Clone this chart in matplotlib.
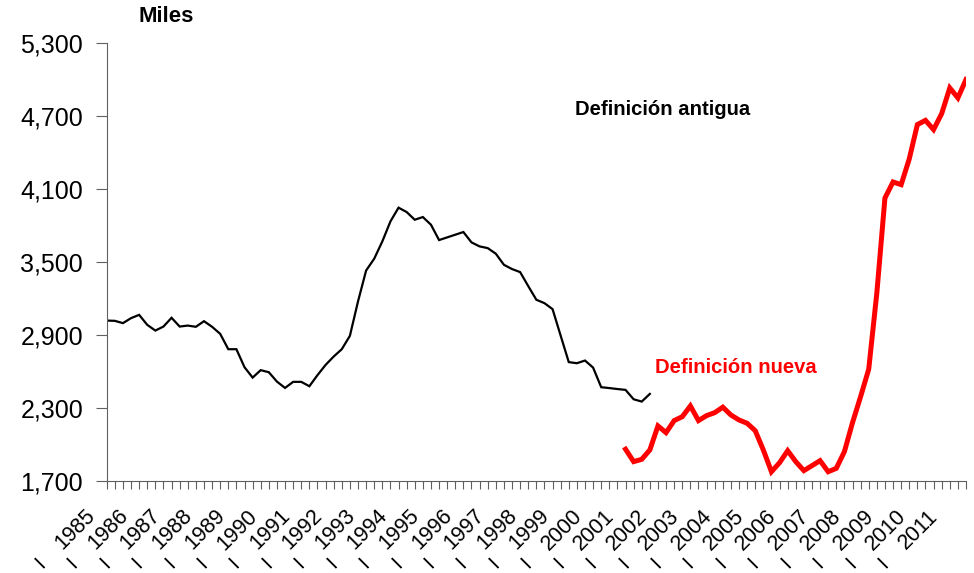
import numpy as np
import matplotlib
matplotlib.use("Agg")
import matplotlib.pyplot as plt
from matplotlib.ticker import FuncFormatter
from matplotlib.transforms import ScaledTranslation

plt.rcParams["font.family"] = ["Liberation Sans", "DejaVu Sans"]

# trimestres desde 1985-I hasta 2011-III
years = list(range(1985, 2012))
n_quarters = 107

# miles de personas, definicion antigua (1985-I .. 2001-IV)
antigua = [3017, 3015, 2996, 3037, 3064, 2982, 2935, 2968, 3040, 2968,
           2976, 2966, 3012, 2966, 2908, 2782, 2782, 2634, 2549, 2610,
           2593, 2516, 2464, 2514, 2514, 2478, 2569, 2653, 2722, 2782,
           2892, 3174, 3428, 3525, 3667, 3831, 3944, 3908, 3845, 3867,
           3804, 3678, 3700, 3722, 3744, 3659, 3626, 3612, 3566, 3475,
           3440, 3415, 3300, 3188, 3160, 3111, 2893, 2676, 2667, 2689,
           2631, 2470, 2463, 2455, 2448, 2371, 2352, 2415]

# definicion nueva (2001-I .. 2011-III)
nueva = [1961, 1859, 1878, 1955, 2152, 2097, 2196, 2228, 2316, 2196,
         2237, 2261, 2306, 2242, 2201, 2174, 2113, 1955, 1776, 1850,
         1949, 1859, 1785, 1826, 1867, 1776, 1804, 1941, 2179, 2393,
         2618, 3243, 4023, 4155, 4133, 4344, 4626, 4661, 4585, 4716,
         4927, 4845, 4996]
nueva_start = 64

fig = plt.figure(figsize=(9.74, 5.73), dpi=100)
ax = fig.add_axes([106.7 / 974, 1 - 481 / 573, (966 - 106.7) / 974, (481 - 42.5) / 573])

x_ant = np.arange(len(antigua))
x_nue = np.arange(nueva_start, nueva_start + len(nueva))
ax.plot(x_ant, antigua, color="black", lw=1.6, solid_joinstyle="miter")
ax.plot(x_nue, nueva, color="#ff0000", lw=3.6, solid_joinstyle="miter")

ax.set_xlim(0, n_quarters - 1)
ax.set_ylim(1700, 5300)
ax.set_yticks(np.arange(1700, 5301, 600))
ax.yaxis.set_major_formatter(FuncFormatter(lambda v, _: f"{v:,.0f}"))

# ticks trimestrales
ax.set_xticks(np.arange(n_quarters))
ax.tick_params(axis="x", length=6, width=0.8, color="#606060", direction="out", labelbottom=False)
ax.tick_params(axis="y", length=8, width=0.8, color="#606060", pad=9, labelsize=18)

# etiquetas de categoria: anio + trimestre "I", giradas 45 grados
xtrans = ax.get_xaxis_transform()
off_year = xtrans + ScaledTranslation(-33 / 100, -47 / 100, fig.dpi_scale_trans)
off_q = xtrans + ScaledTranslation(-68 / 100, -81 / 100, fig.dpi_scale_trans)
for k, y in enumerate(years):
    xi = 4 * k
    ax.text(xi, 0, str(y), transform=off_year, rotation=45, rotation_mode="anchor",
            ha="center", va="center_baseline", fontsize=15.5, clip_on=False)
    ax.text(xi, 0, "I", transform=off_q, rotation=45, rotation_mode="anchor",
            ha="center", va="center_baseline", fontsize=15, clip_on=False)

for s in ("top", "right"):
    ax.spines[s].set_visible(False)
for s in ("left", "bottom"):
    ax.spines[s].set_color("#606060")
    ax.spines[s].set_linewidth(0.8)

fig.text(138 / 974, 1 - 17 / 573, "Miles", fontsize=16, fontweight="bold", va="center", ha="left")
ax.text(57.8, 4749, "Definición antigua", fontsize=14.6, fontweight="bold", color="black",
        va="center", ha="left")
ax.text(67.6, 2629, "Definición nueva", fontsize=14.6, fontweight="bold", color="#ff0000",
        va="center", ha="left")

fig.savefig("out.png", dpi=100)
